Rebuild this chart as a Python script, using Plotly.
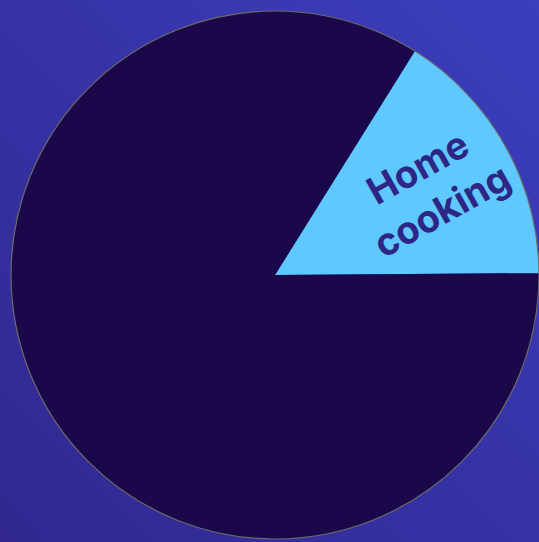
import base64
import plotly.graph_objects as go

# Data
labels = ["Home cooking", "Other"]
values = [16, 84]
slice_text = ["Home<br>cooking", ""]

W, H = 539, 542

bg_svg = (
    '<svg xmlns="http://www.w3.org/2000/svg" width="539" height="542" preserveAspectRatio="none">'
    '<defs><linearGradient id="g" x1="1" y1="0" x2="0" y2="1">'
    '<stop offset="0" stop-color="#3b3ebd"/>'
    '<stop offset="1" stop-color="#31278f"/>'
    '</linearGradient></defs>'
    '<rect width="539" height="542" fill="url(#g)"/></svg>'
)
bg_uri = "data:image/svg+xml;base64," + base64.b64encode(bg_svg.encode()).decode()

dom_x = [11 / W, 1.0]
dom_y = [1 / H, 533 / H]

fig = go.Figure()
fig.add_trace(go.Pie(
    labels=labels,
    values=values,
    text=slice_text,
    textinfo="text",
    sort=False,
    direction="clockwise",
    rotation=32,
    marker=dict(colors=["#5ec8ff", "#1b084b"], line=dict(width=0)),
    insidetextorientation="radial",
    textposition="inside",
    insidetextfont=dict(family="Inter, Open Sans, sans-serif", size=38, color="#2d2684", weight="bold"),
    domain=dict(x=dom_x, y=dom_y),
    showlegend=False,
    hoverinfo="label+percent",
))
# outline circle around the pie
fig.add_trace(go.Pie(
    labels=["outline"],
    values=[1],
    textinfo="none",
    marker=dict(colors=["rgba(0,0,0,0)"], line=dict(width=1.2, color="#6b6b6b")),
    domain=dict(x=dom_x, y=dom_y),
    showlegend=False,
    hoverinfo="skip",
))

fig.update_layout(
    width=W, height=H,
    margin=dict(l=0, r=0, t=0, b=0),
    paper_bgcolor="#3634a8",
    plot_bgcolor="rgba(0,0,0,0)",
    images=[dict(source=bg_uri, xref="paper", yref="paper", x=0, y=1,
                 sizex=1, sizey=1, sizing="stretch", layer="below",
                 xanchor="left", yanchor="top")],
)
fig.write_html(
    "out.html",
    config={"displayModeBar": False},
    post_script="document.body.style.margin='0';document.body.style.overflow='hidden';",
)
